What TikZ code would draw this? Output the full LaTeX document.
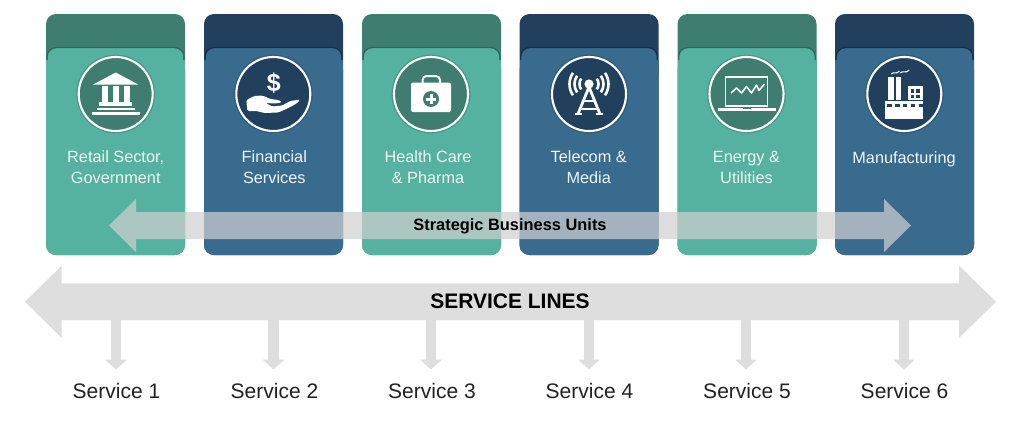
\documentclass[tikz,border=0pt]{standalone}
\usepackage{fontspec}
\setmainfont{Liberation Sans}
\usetikzlibrary{arrows.meta}
\definecolor{tealbody}{HTML}{55B2A0}
\definecolor{tealdark}{HTML}{3F7D70}
\definecolor{tealshade}{HTML}{2C5F55}
\definecolor{bluebody}{HTML}{386B8E}
\definecolor{bluedark}{HTML}{20405E}
\definecolor{blueshade}{HTML}{152C44}
\definecolor{linegrey}{HTML}{DEDEDE}
\definecolor{labeltext}{HTML}{F0F6F5}
\definecolor{svctext}{HTML}{222222}
\tikzset{
  x=1pt,y=-1pt,
  cardlabel/.style={text=labeltext,font=\fontsize{16.3}{21}\selectfont,align=center,inner sep=0pt},
  svclabel/.style={text=svctext,font=\fontsize{21}{24}\selectfont,inner sep=0pt},
  barlabel/.style={text=black,font=\bfseries\fontsize{21}{24}\selectfont,inner sep=0pt},
  unitlabel/.style={text=black,font=\bfseries\fontsize{16.4}{20}\selectfont,inner sep=0pt},
  svcarrow/.style={draw=linegrey,line width=10.6pt,-{Triangle[width=21.4pt,length=10pt]}},
  ic/.style={fill=white,draw=none},
  icl/.style={draw=white,fill=none},
}
% #1 x-left, #2 body colour, #3 header colour, #4 shade colour, #5 name
\newcommand{\cardshape}[5]{%
  \pgfmathsetmacro{\xr}{#1+139}%
  \pgfmathsetmacro{\xm}{#1+69.5}%
  \node[fill=#3,minimum width=139pt,minimum height=241pt,rounded corners=10pt,inner sep=0pt] (#5) at (\xm,134.5) {};
  \fill[#2,rounded corners=10pt] (#1+1.2,70) -- (#1+1.2,48) -- (\xr-1.2,48) -- (\xr-1.2,70) -- cycle;
  \fill[#2,rounded corners=10pt] (#1,60) -- (#1,255) -- (\xr,255) -- (\xr,60) -- cycle;
  \fill[#2] (#1,60) rectangle (\xr,75);
  \draw[#4,line width=1.2pt,rounded corners=9pt,opacity=.8] (#1+1.2,60) -- (#1+1.2,47.5) -- (\xr-1.2,47.5) -- (\xr-1.2,60);
}
\newcommand{\badge}[3]{%
  \fill[black,opacity=.14] (#1,94) circle (39.4);
  \node[circle,fill=#2,draw=white,line width=2.1pt,minimum size=74pt,inner sep=0pt] (#3) at (#1,94) {};
}
\begin{document}
\begin{tikzpicture}
\useasboundingbox (0,0) rectangle (1024,434);
\fill[white] (0,0) rectangle (1024,434);

\cardshape{46}{tealbody}{tealdark}{tealshade}{card1}
\cardshape{204}{bluebody}{bluedark}{blueshade}{card2}
\cardshape{362}{tealbody}{tealdark}{tealshade}{card3}
\cardshape{519.5}{bluebody}{bluedark}{blueshade}{card4}
\cardshape{677.5}{tealbody}{tealdark}{tealshade}{card5}
\cardshape{835}{bluebody}{bluedark}{blueshade}{card6}

\badge{115.7}{tealdark}{b1}
\badge{273.3}{bluedark}{b2}
\badge{431}{tealdark}{b3}
\badge{589}{bluedark}{b4}
\badge{746.5}{tealdark}{b5}
\badge{904.3}{bluedark}{b6}

% bank
\begin{scope}[shift={(b1.center)}]
  \fill[ic] (-22.5,-9.5) -- (0,-21.5) -- (22.5,-9.5) -- cycle;
  \fill[ic] (-14,-8) rectangle (-8,8);
  \fill[ic] (-3.2,-8) rectangle (3.2,8);
  \fill[ic] (8,-8) rectangle (14,8);
  \fill[ic] (-16.5,8) rectangle (16.5,11.5);
  \fill[ic] (-19,13.5) rectangle (19,16.3);
  \fill[ic] (-24,18) rectangle (24,21);
\end{scope}
% hand and dollar
\begin{scope}[shift={(b2.center)}]
  \node[text=white,font=\bfseries\fontsize{25}{25}\selectfont,inner sep=0pt] (dollar) at (0.5,-11) {\$};
  \fill[ic,rounded corners=1.5pt] (-27,6) -- (-19,2) -- (-11,1.5) -- (-3,5) -- (5,6) -- (9,8) -- (3,9.5) -- (-8,9) -- (-1,12.5) -- (9,11.5) -- (17,7) -- (27,5.5) -- (24,9) -- (15,14) -- (5,18.5) -- (-9,19) -- (-17,17) -- (-26,17) -- cycle;
\end{scope}
% medical case
\begin{scope}[shift={(b3.center)}]
  \draw[icl,line width=2pt,rounded corners=4pt] (-8.5,-11) -- (-8.5,-18) -- (9,-18) -- (9,-11);
  \fill[ic,rounded corners=2pt] (-20,-11.5) rectangle (20,18);
  \fill[tealdark] (0,5) circle (8);
  \fill[ic] (-4.8,3.5) rectangle (4.8,6.5);
  \fill[ic] (-1.5,0.2) rectangle (1.5,9.8);
\end{scope}
% antenna
\begin{scope}[shift={(b4.center)}]
  \fill[ic] (0,-10) circle (4.6);
  \draw[icl,line width=2.8pt,line join=round] (-11,20) -- (0,-7) -- (11,20);
  \draw[icl,line width=2pt] (-7,7) -- (7,7);
  \draw[icl,line width=2pt] (-10,14.5) -- (10,14.5);
  \draw[icl,line width=2.6pt] (-14,20) -- (-7,20) (7,20) -- (14,20);
  \foreach \r in {9.5,14.5,19.5}{
    \draw[icl,line width=2.6pt] (\r*0.82,-10-\r*0.57) arc (-35:35:\r);
    \draw[icl,line width=2.6pt] (-\r*0.82,-10-\r*0.57) arc (215:145:\r);
  }
\end{scope}
% laptop
\begin{scope}[shift={(b5.center)}]
  \draw[icl,line width=1.9pt] (-21,-17) rectangle (21,12);
  \fill[ic] (-29,13.5) rectangle (29,17);
  \fill[tealdark] (-4,13.5) rectangle (4,15);
  \draw[icl,line width=1.5pt,line join=round] (-15.5,-1) -- (-10,-6) -- (-5,-1) -- (0,-7.5) -- (5,-1) -- (10,-9) -- (12.5,-3.5) -- (18,-10);
\end{scope}
% factory
\begin{scope}[shift={(b6.center)}]
  \fill[ic] (-16,-17) rectangle (-10.5,6);
  \fill[ic] (-8.5,-17) rectangle (-3,6);
  \fill[ic] (3.5,-8) rectangle (19,6);
  \fill[ic] (-19.5,7) rectangle (19,24.5);
  \fill[bluedark] (6.5,-5) rectangle (10,-1);
  \fill[bluedark] (12,-5) rectangle (15.5,-1);
  \fill[bluedark] (6.5,1) rectangle (10,4);
  \fill[bluedark] (12,1) rectangle (15.5,4);
  \foreach \x in {-16,-8.2,-0.4,7.4,15.2}
    \fill[bluedark] (\x-1,9.5) rectangle (\x+3.5,12.5);
  \draw[icl,line width=1.1pt] (-13,-20) .. controls (-10,-23) and (-8,-19) .. (-5,-23);
  \draw[icl,line width=1.1pt] (-4,-21) .. controls (-1,-24) and (1,-20) .. (5,-24);
\end{scope}

% card labels
\node[cardlabel] (l1) at (115.7,167.5) {Retail Sector,\\Government};
\node[cardlabel] (l2) at (274.3,167.5) {Financial\\Services};
\node[cardlabel] (l3) at (428,167.5) {Health Care\\\& Pharma};
\node[cardlabel] (l4) at (588.7,167.5) {Telecom \&\\Media};
\node[cardlabel] (l5) at (746.5,167.5) {Energy \&\\Utilities};
\node[cardlabel] (l6) at (904,159) {Manufacturing};

% strategic business units arrow
\fill[fill=black!18.5,opacity=.71] (109,225.5) -- (136,199) -- (136,212) -- (884,212) -- (884,199) -- (911,225.5) -- (884,252) -- (884,239) -- (136,239) -- (136,252) -- cycle;
\node[unitlabel] (sbu) at (510,226.5) {Strategic Business Units};

% service lines arrow
\fill[linegrey] (25,301.7) -- (61.7,265.7) -- (61.7,283.3) -- (959,283.3) -- (959,265.7) -- (996,301.7) -- (959,338) -- (959,320) -- (61.7,320) -- (61.7,338) -- cycle;
\node[barlabel] (sl) at (510,301.5) {SERVICE LINES};

% service arrows and labels
\foreach \i/\x in {1/116,2/273.5,3/431,4/589,5/746,6/904}{
  \coordinate (from\i) at (\x,319);
  \coordinate (to\i) at (\x,369.5);
  \draw[svcarrow] (from\i) -- (to\i);
}
\node[svclabel] (s1) at (116.5,390.5) {Service 1};
\node[svclabel] (s2) at (274.5,390.5) {Service 2};
\node[svclabel] (s3) at (432,390.5) {Service 3};
\node[svclabel] (s4) at (589.5,390.5) {Service 4};
\node[svclabel] (s5) at (747,390.5) {Service 5};
\node[svclabel] (s6) at (904.5,390.5) {Service 6};
\end{tikzpicture}
\end{document}
